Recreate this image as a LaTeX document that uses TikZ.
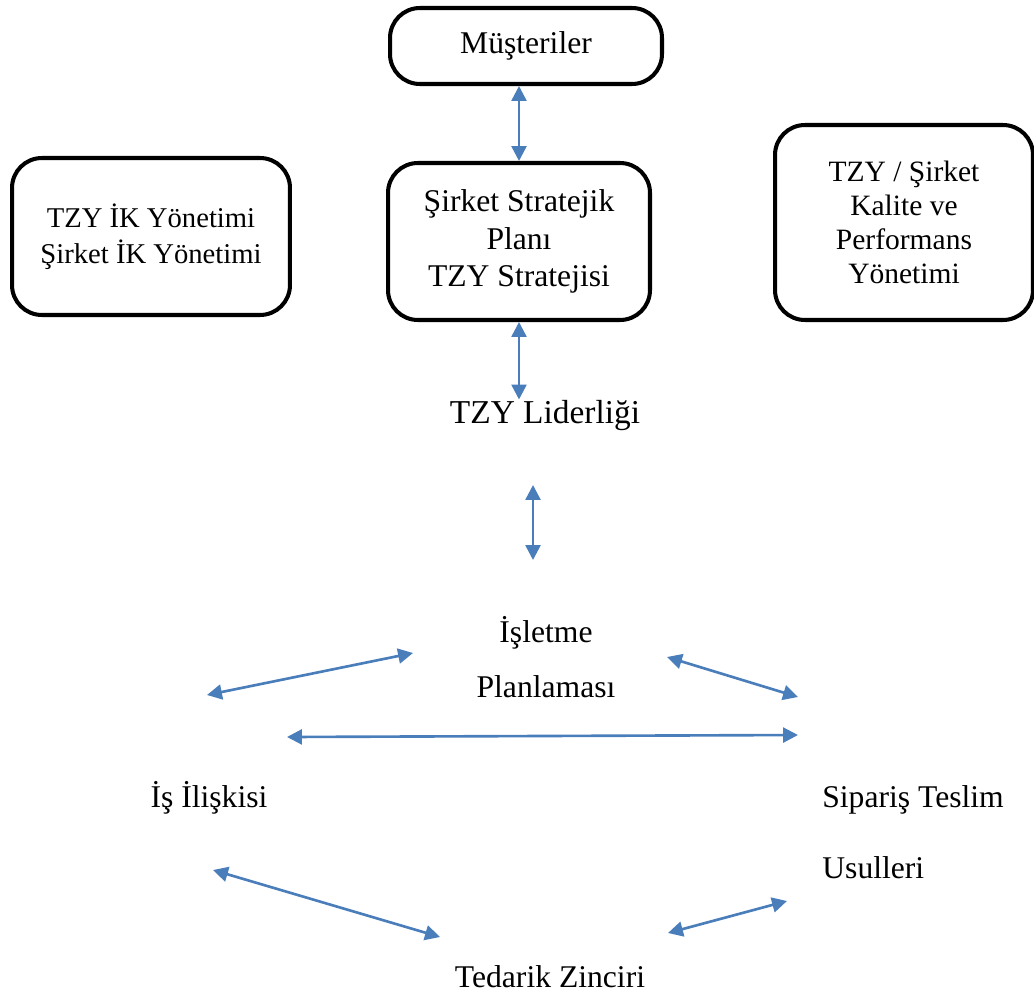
\documentclass[tikz,border=0pt]{standalone}
\usepackage{fontspec}
\setmainfont{Liberation Serif}
\usetikzlibrary{arrows.meta}
\definecolor{okmavi}{HTML}{4A7EBB}
\tikzset{
  kutu/.style={draw, line width=2.3pt, rounded corners=17pt, align=center, inner sep=0pt},
  etiket/.style={font=\fontsize{18}{21}\selectfont, inner sep=0pt},
  ok/.style={okmavi, line width=1.5pt, {Triangle[length=8.5pt,width=8.5pt]}-{Triangle[length=8.5pt,width=8.5pt]}}
}
\begin{document}
\begin{tikzpicture}[x=0.02cm, y=-0.02cm]
    \useasboundingbox (0,0) rectangle (1034,997);

    \node (musteri) at (526,46) [kutu, minimum width=5.44cm, minimum height=1.52cm, font=\fontsize{18}{21}\selectfont] {Müşteriler};
    \node (ik) at (151,236.5) [kutu, minimum width=5.56cm, minimum height=3.14cm, font=\fontsize{16.3}{20.3}\selectfont] {TZY İK Yönetimi\\Şirket İK Yönetimi};
    \node (strateji) at (519,241.5) [kutu, minimum width=5.24cm, minimum height=3.14cm, font=\fontsize{18}{21.3}\selectfont] {Şirket Stratejik\\Planı\\TZY Stratejisi};
    \node (kalite) at (904,222.5) [kutu, minimum width=5.16cm, minimum height=3.9cm, font=\fontsize{16.8}{19.5}\selectfont] {TZY / Şirket\\Kalite ve\\Performans\\Yönetimi};

    \node (lider) at (545,423) [etiket, anchor=base, font=\fontsize{19}{21}\selectfont] {TZY Liderliği};
    \node (isletme) at (546,697) [etiket, anchor=base, align=center, font=\fontsize{18}{31}\selectfont] {İşletme\\Planlaması};
    \node (isiliskisi) at (209,807) [etiket, anchor=base] {İş İlişkisi};
    \node (siparis) at (822,878) [etiket, anchor=base west, align=left, font=\fontsize{18}{40}\selectfont] {Sipariş Teslim\\Usulleri};
    \node (tedarik) at (550,987) [etiket, anchor=base] {Tedarik Zinciri};

    \coordinate (l1) at (533,485);
    \coordinate (l2) at (533,560);
    \coordinate (p1) at (207,695);
    \coordinate (p2) at (413,653);
    \coordinate (p3) at (667,657);
    \coordinate (p4) at (798,697);
    \coordinate (p5) at (287,737);
    \coordinate (p6) at (798,735);
    \coordinate (t1) at (213,870);
    \coordinate (t2) at (440,937);
    \coordinate (t3) at (668,933);
    \coordinate (t4) at (787,901);

    \draw [ok] (musteri.south -| strateji.north) -- (strateji.north);
    \draw [ok] (strateji.south) -- (strateji.south |- lider.north);
    \draw [ok] (l1) -- (l2);
    \draw [ok] (p1) -- (p2) ;
    \draw [ok] (p3) -- (p4);
    \draw [ok] (p5) -- (p6);
    \draw [ok] (t1) -- (t2);
    \draw [ok] (t3) -- (t4);
\end{tikzpicture}
\end{document}
